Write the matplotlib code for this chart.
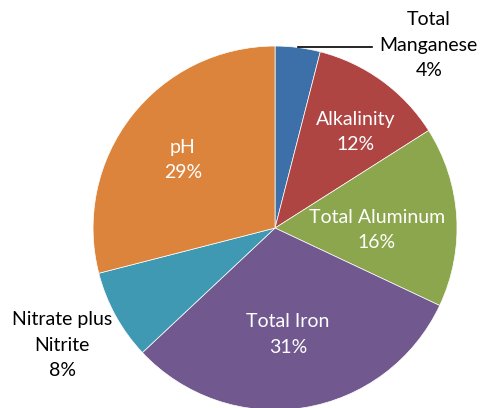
import numpy as np
import matplotlib
matplotlib.use('Agg')
import matplotlib.pyplot as plt

labels = ['Total\nManganese', 'Alkalinity', 'Total Aluminum', 'Total Iron', 'Nitrate plus\nNitrite', 'pH']
values = [4, 12, 16, 31, 8, 29]
colors = ['#3D6FA8', '#AE4543', '#8BA64C', '#71588F', '#4099B3', '#DD843C']

plt.rcParams['font.family'] = ['Lato', 'DejaVu Sans']

fig = plt.figure(figsize=(4.82, 4.08), dpi=100)
ax = fig.add_axes([0, 0, 1, 1])
wedges, _ = ax.pie(values, colors=colors, startangle=90, counterclock=False,
                   radius=1, wedgeprops=dict(edgecolor='white', linewidth=0.5))
ax.set_xlim(-1.511, 1.137)
ax.set_ylim(-0.989, 1.253)
ax.set_aspect('equal')
ax.axis('off')

fs = 14
ls = 1.6
# inside labels: (angle tweak deg, radius fraction)
inside = {1: (-4, 0.69), 2: (-4.6, 0.56), 3: (-2, 0.59), 5: (1.3, 0.63)}
for i, (dang, frac) in inside.items():
    w = wedges[i]
    ang = np.deg2rad((w.theta1 + w.theta2) / 2 + dang)
    ax.text(frac * np.cos(ang), frac * np.sin(ang), f'{labels[i]}\n{values[i]}%',
            ha='center', va='center', color='white', fontsize=fs, linespacing=ls)

# Total Manganese with leader line
w = wedges[0]
ang = np.deg2rad((w.theta1 + w.theta2) / 2)
ax.plot([np.cos(ang), 0.533], [np.sin(ang), np.sin(ang)], color='black', lw=1.2)
ax.text(0.845, 1.005, f'{labels[0]}\n{values[0]}%', ha='center', va='center',
        color='black', fontsize=fs, linespacing=ls)

# Nitrate plus Nitrite
ax.text(-1.170, -0.643, f'{labels[4]}\n{values[4]}%', ha='center', va='center',
        color='black', fontsize=fs, linespacing=ls)

fig.savefig('out.png', dpi=100)
